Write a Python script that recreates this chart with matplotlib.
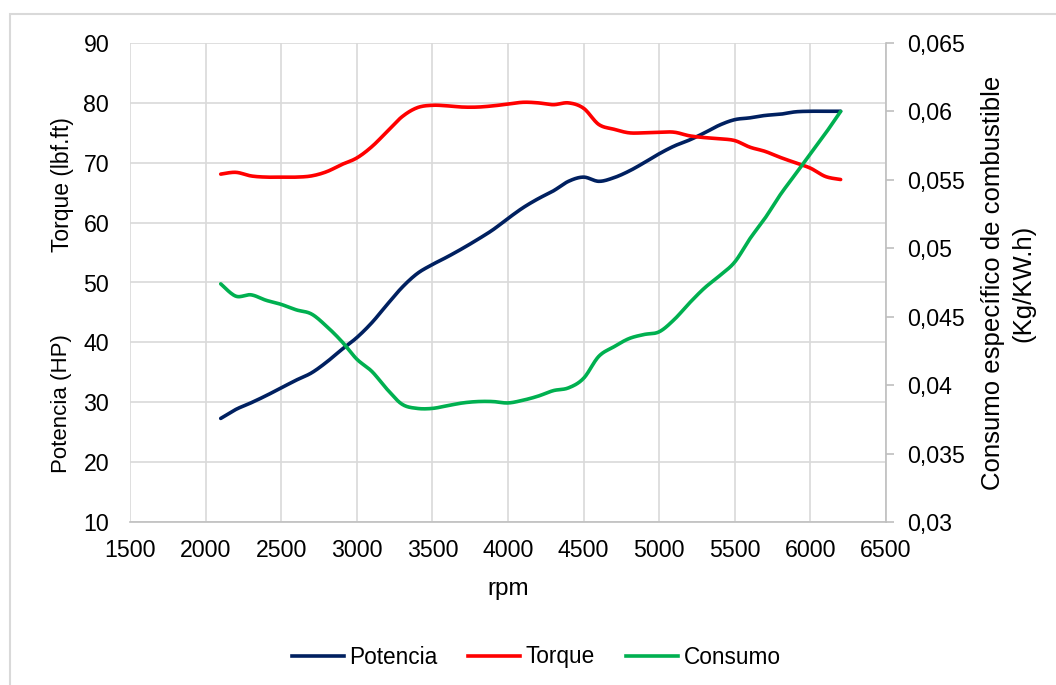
import numpy as np
import matplotlib
matplotlib.use("Agg")
import matplotlib.pyplot as plt
from matplotlib.lines import Line2D
from matplotlib.patches import Rectangle
from matplotlib.ticker import FuncFormatter, MultipleLocator

plt.rcParams['font.family'] = ['Liberation Sans', 'DejaVu Sans']

# Engine dyno run, one reading every 100 rpm
rpm = list(range(2100, 6300, 100))

potencia = [27.3, 28.8, 29.9, 31.1, 32.4, 33.7, 34.9, 36.7, 38.8, 40.8,
            43.3, 46.3, 49.2, 51.5, 53.0, 54.3, 55.7, 57.2, 58.8, 60.7,
            62.5, 64.0, 65.3, 66.9, 67.6, 66.9, 67.5, 68.6, 70.0, 71.5,
            72.8, 73.8, 75.0, 76.3, 77.2, 77.5, 77.9, 78.1, 78.5, 78.6,
            78.6, 78.6]

torque = [68.1, 68.4, 67.8, 67.6, 67.6, 67.6, 67.8, 68.5, 69.7, 70.8,
          72.7, 75.2, 77.7, 79.2, 79.6, 79.5, 79.3, 79.3, 79.5, 79.8,
          80.1, 80.0, 79.7, 80.0, 79.1, 76.4, 75.6, 75.0, 75.0, 75.1,
          75.1, 74.5, 74.2, 74.0, 73.7, 72.6, 71.9, 70.9, 70.0, 69.1,
          67.7, 67.2]

consumo = [0.0474, 0.0465, 0.0466, 0.0462, 0.0459, 0.0455, 0.0452, 0.0443,
           0.0432, 0.0419, 0.0410, 0.0397, 0.0386, 0.0383, 0.0383, 0.0385,
           0.0387, 0.0388, 0.0388, 0.0387, 0.0389, 0.0392, 0.0396, 0.0398,
           0.0405, 0.0421, 0.0428, 0.0434, 0.0437, 0.0439, 0.0448, 0.0460,
           0.0471, 0.0480, 0.0490, 0.0507, 0.0522, 0.0539, 0.0554, 0.0569,
           0.0584, 0.0600]

x_ticks = [1500, 2000, 2500, 3000, 3500, 4000, 4500, 5000, 5500, 6000, 6500]


def smooth(x, y, n=20):
    """Catmull-Rom style Bezier smoothing through every point."""
    x = np.asarray(x, float)
    y = np.asarray(y, float)
    px = np.concatenate([[x[0]], x, [x[-1]]])
    py = np.concatenate([[y[0]], y, [y[-1]]])
    t = np.linspace(0, 1, n, endpoint=False)
    xs, ys = [], []
    for i in range(1, len(px) - 2):
        p0 = np.array([px[i - 1], py[i - 1]])
        p1 = np.array([px[i], py[i]])
        p2 = np.array([px[i + 1], py[i + 1]])
        p3 = np.array([px[i + 2], py[i + 2]])
        c1 = p1 + (p2 - p0) / 6.0
        c2 = p2 - (p3 - p1) / 6.0
        b = ((1 - t) ** 3)[:, None] * p1 + (3 * (1 - t) ** 2 * t)[:, None] * c1 \
            + (3 * (1 - t) * t ** 2)[:, None] * c2 + (t ** 3)[:, None] * p2
        xs.append(b[:, 0])
        ys.append(b[:, 1])
    xs.append([x[-1]])
    ys.append([y[-1]])
    return np.concatenate(xs), np.concatenate(ys)


C_POT = '#002060'
C_TOR = '#FF0000'
C_CON = '#00B050'
GRID = '#D9D9D9'

fig = plt.figure(figsize=(10.56, 6.85), dpi=100)
fig.patches.append(Rectangle((10 / 1056, -0.05), 1.1, 1 - 14 / 685 + 0.05,
                             transform=fig.transFigure, fill=False,
                             edgecolor='#D9D9D9', linewidth=1.5))

ax = fig.add_axes([130 / 1056, 1 - 522 / 685, (886 - 130) / 1056, (522 - 43) / 685])
ax2 = ax.twinx()

lw = 2.6
ax.plot(*smooth(rpm, potencia), color=C_POT, lw=lw, solid_capstyle='round', zorder=3)
ax.plot(*smooth(rpm, torque), color=C_TOR, lw=lw, solid_capstyle='round', zorder=3)
ax2.plot(*smooth(rpm, consumo), color=C_CON, lw=lw, solid_capstyle='round', zorder=3)

ax.set_xlim(1500, 6500)
ax.set_ylim(10, 90)
ax2.set_ylim(0.03, 0.065)
ax.set_xticks(x_ticks)
ax.yaxis.set_major_locator(MultipleLocator(10))
ax2.yaxis.set_major_locator(MultipleLocator(0.005))
ax2.yaxis.set_major_formatter(FuncFormatter(
    lambda v, p: ('%g' % round(v, 3)).replace('.', ',')))

ax.grid(True, color=GRID, lw=1.2)
ax.set_axisbelow(True)

for a in (ax, ax2):
    for s in a.spines.values():
        s.set_visible(False)
ax.spines['bottom'].set_visible(True)
ax.spines['bottom'].set_color('#BFBFBF')
ax.spines['bottom'].set_linewidth(1.2)
ax2.spines['right'].set_visible(True)
ax2.spines['right'].set_color('#BFBFBF')
ax2.spines['right'].set_linewidth(1.2)

fs = 16.7
ax.tick_params(axis='both', length=0, labelsize=fs, colors='#000000')
ax.tick_params(axis='x', pad=12)
ax.tick_params(axis='y', pad=15)
ax2.tick_params(axis='y', length=6, width=1.2, color='#BFBFBF',
                labelsize=fs, pad=9, direction='out')

ax.set_xlabel('rpm', fontsize=17.5, labelpad=12)

fig.text(62 / 1056, 1 - 185 / 685, 'Torque (lbf.ft)', rotation=90,
         ha='center', va='center', fontsize=16.5)
fig.text(62 / 1056, 1 - 404 / 685, 'Potencia (HP)', rotation=90,
         ha='center', va='center', fontsize=16)
fig.text(1008 / 1056, 1 - 283 / 685,
         'Consumo específico de combustible\n(Kg/KW.h)', rotation=90,
         ha='center', va='center', fontsize=18.5, linespacing=1.35,
         multialignment='center')

handles = [Line2D([], [], color=C_POT, lw=lw),
           Line2D([], [], color=C_TOR, lw=lw),
           Line2D([], [], color=C_CON, lw=lw)]
fig.legend(handles, ['Potencia', 'Torque', 'Consumo'], loc='center',
           bbox_to_anchor=(536 / 1056, 1 - 657 / 685), ncol=3, frameon=False,
           fontsize=16.3, handlelength=2.3, handletextpad=0.25, columnspacing=1.35)

fig.savefig('out.png', dpi=100, facecolor='white')
